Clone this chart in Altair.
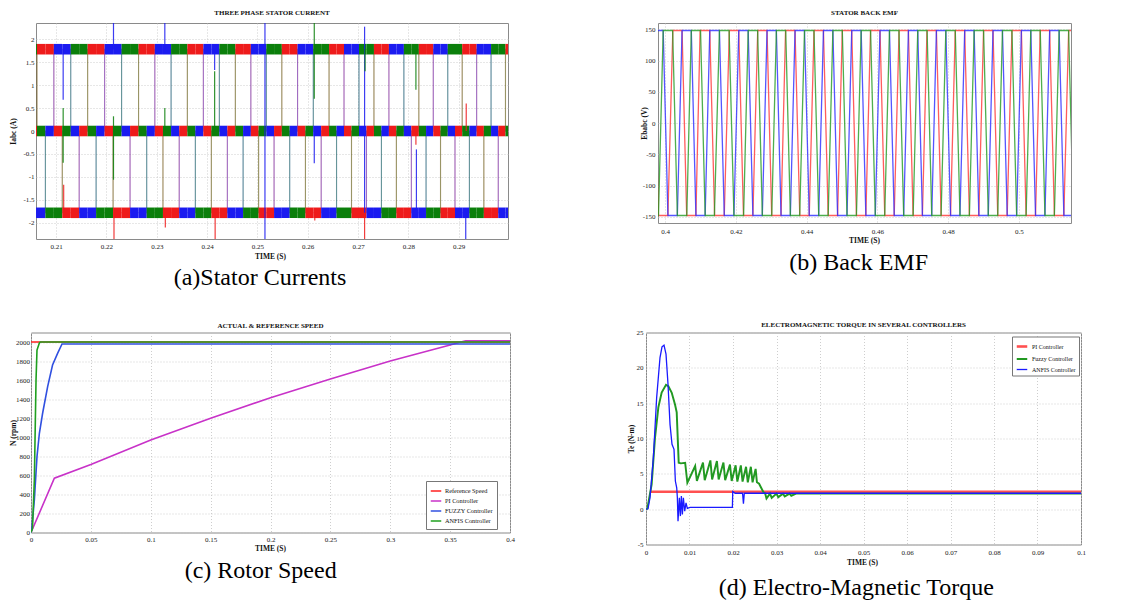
import altair as alt
import pandas as pd

FONT = "Liberation Serif"

# ======================= (a) THREE PHASE STATOR CURRENT =======================
a_title = "THREE PHASE STATOR CURRENT"
a_caption = "(a)Stator Currents"
a_xdom = [0.206, 0.2998]
a_cycle_start = [0.1962, 0.20619, 0.21626, 0.22638, 0.23608, 0.24562,
                 0.25485, 0.26424, 0.27316, 0.28208, 0.29070, 0.2993, 0.3079]
a_phase = ["Ia", "Ib", "Ic"]
a_sign = {"Ia": [1, 1, 0, -1, -1, 0],
          "Ib": [-1, 0, 1, 1, 0, -1],
          "Ic": [0, -1, -1, 0, 1, 1]}
a_level = 1.78
a_ripple = 0.115
a_spike_t = [0.2114, 0.2114, 0.2115, 0.2214, 0.2214, 0.2215, 0.2316, 0.2316, 0.2317,
             0.2415, 0.2415, 0.2416, 0.2515, 0.2613, 0.2613, 0.2614, 0.2713, 0.2713,
             0.2714, 0.2815, 0.2815, 0.2816, 0.2914, 0.2915]
a_spike_phase = ["Ib", "Ic", "Ia", "Ib", "Ic", "Ia", "Ib", "Ic", "Ia", "Ib", "Ic", "Ia",
                 "Ib", "Ic", "Ib", "Ia", "Ib", "Ia", "Ic", "Ic", "Ia", "Ib", "Ib", "Ia"]
a_spike_from = [1.78, 0.5, -1.78, 1.78, 0.32, -1.78, 1.78, 0.0, -1.78, 1.78, 0.0, -1.78,
                -2.5, 0.7, 0.0, -1.78, -1.78, -1.78, 1.78, 1.78, 0.0, -0.4, -1.78, 0.0]
a_spike_to = [0.68, -0.69, -1.17, 2.5, -1.06, -2.5, 2.5, 0.5, -2.1, 1.33, 1.3, -2.5,
              2.5, 2.5, -0.7, -1.95, 2.27, -2.5, 1.3, 0.9, -0.3, -1.7, -2.5, 0.6]
a_xticks = [0.21, 0.22, 0.23, 0.24, 0.25, 0.26, 0.27, 0.28, 0.29]
a_yticks = [-2, -1.5, -1, -0.5, 0, 0.5, 1, 1.5, 2]

# ======================= (b) STATOR BACK EMF =======================
b_title = "STATOR BACK EMF"
b_caption = "(b) Back EMF"
b_xdom = [0.398, 0.5147]
b_phase = ["Ea", "Eb", "Ec"]
b_phase_shift = [-1 / 3, 0.0, 1 / 3]          # fraction of a cycle
b_blue_start = [0.3888, 0.3968, 0.4048, 0.41263, 0.42082, 0.42881, 0.43672, 0.44475,
                0.45274, 0.46073, 0.46876, 0.47667, 0.48466, 0.49266, 0.50068, 0.50867,
                0.5167, 0.5247]
b_shape_frac = [0.0, 1 / 3, 1 / 2, 5 / 6]      # trapezoid corners within a cycle
b_shape_sign = [1, 1, -1, -1]
b_level = 148
b_xticks = [0.4, 0.42, 0.44, 0.46, 0.48, 0.5]
b_yticks = [-150, -100, -50, 0, 50, 100, 150]

# ======================= (c) ACTUAL & REFERENCE SPEED =======================
c_title = "ACTUAL & REFERENCE SPEED"
c_caption = "(c) Rotor Speed"
c_series = ["Reference Speed", "PI Controller", "FUZZY Controller", "ANFIS Controller"]
c_ref_t = [0, 0.4]
c_ref_v = [2000, 2000]
c_pi_t = [0, 0.0195, 0.05, 0.1, 0.15, 0.2, 0.25, 0.3, 0.35, 0.3588, 0.363, 0.4]
c_pi_v = [0, 570, 715, 972, 1199, 1416, 1612, 1801, 1969, 2000, 2012, 2012]
c_fuzzy_t = [0, 0.0006, 0.0028, 0.005, 0.007, 0.0097, 0.0139, 0.018, 0.0222, 0.0259, 0.4]
c_fuzzy_v = [0, 28, 343, 797, 1042, 1252, 1532, 1759, 1881, 1980, 1980]
c_anfis_t = [0, 0.0012, 0.0028, 0.0042, 0.005, 0.007, 0.0078, 0.4]
c_anfis_v = [0, 40, 550, 1600, 1915, 1990, 2000, 2000]
c_xticks = [0, 0.05, 0.1, 0.15, 0.2, 0.25, 0.3, 0.35, 0.4]
c_yticks = [0, 200, 400, 600, 800, 1000, 1200, 1400, 1600, 1800, 2000]

# ======================= (d) ELECTROMAGNETIC TORQUE =======================
d_title = "ELECTROMAGNETIC TORQUE IN SEVERAL CONTROLLERS"
d_caption = "(d) Electro-Magnetic Torque"
d_series = ["PI Controller", "Fuzzy Controller", "ANFIS Controller"]
d_pi_t = [0.00107, 0.1]
d_pi_v = [2.46, 2.46]
d_fuzzy_t = [0, 0.0003, 0.0013, 0.00207, 0.00284, 0.0036, 0.0046, 0.00514, 0.0059, 0.00667,
             0.00706, 0.00752, 0.008, 0.009, 0.00951, 0.0113, 0.0117, 0.0131, 0.0135, 0.0148,
             0.0152, 0.0163, 0.0167, 0.0178, 0.0182, 0.0193, 0.0197, 0.0206, 0.021, 0.0218,
             0.0222, 0.023, 0.0234, 0.0241, 0.0245, 0.0252, 0.0255, 0.026, 0.0265, 0.027,
             0.0274, 0.0277, 0.0285, 0.0289, 0.03, 0.0304, 0.0315, 0.0319, 0.033, 0.0334,
             0.0345, 0.035, 0.1]
d_fuzzy_v = [0, 0.05, 3.5, 10.1, 14.4, 16.5, 17.6, 17.4, 16.5, 14.8,
             13.7, 6.57, 6.48, 6.57, 3.74, 6.1, 4.0, 6.6, 4.1, 6.9,
             4.2, 6.8, 4.2, 6.6, 4.1, 6.3, 4.0, 6.2, 3.9, 6.2,
             3.9, 6.0, 3.8, 6.0, 3.8, 5.7, 3.8, 3.6, 3.0, 2.4,
             2.2, 1.5, 2.2, 1.6, 2.2, 1.7, 2.2, 1.8, 2.2, 1.9,
             2.2, 2.2, 2.2]
d_anfis_t = [0, 0.00046, 0.00092, 0.00169, 0.00245, 0.00322, 0.00368, 0.00414, 0.0046, 0.00506,
             0.00552, 0.00598, 0.00644, 0.00675, 0.00706, 0.00721, 0.00736, 0.00767, 0.0079, 0.00813,
             0.00836, 0.00859, 0.0089, 0.0092, 0.0095, 0.01012, 0.01986, 0.01994, 0.0205, 0.0222,
             0.0224, 0.0226, 0.1]
d_anfis_v = [0, 0.05, 1.61, 7.28, 15.79, 21.46, 22.97, 23.2, 21.93, 17.68,
             12.0, 9.17, 8.46, 3.98, 3.03, 1.61, -1.69, 1.61, -0.98, 1.85,
             -0.75, 1.61, -0.28, 0.9, 0.1, 0.25, 0.25, 2.5, 2.25, 2.25,
             0.76, 2.25, 2.25]
d_xticks = [0, 0.01, 0.02, 0.03, 0.04, 0.05, 0.06, 0.07, 0.08, 0.09, 0.1]
d_yticks = [-5, 0, 5, 10, 15, 20, 25]

# ---------------------------------------------------------------- tables
seg_rows, step_rows = [], []
lo_t, hi_t = a_xdom
for i in range(len(a_cycle_start) - 1):
    s, e = a_cycle_start[i], a_cycle_start[i + 1]
    for k in range(6):
        t0 = s + (e - s) * k / 6
        t1 = s + (e - s) * (k + 1) / 6
        if t1 <= lo_t or t0 >= hi_t:
            continue
        t0c, t1c = max(t0, lo_t), min(t1, hi_t)
        for ph in a_phase:
            lv = a_sign[ph][k] * a_level
            seg_rows.append({"t0": t0c, "t1": t1c, "lo": lv - a_ripple, "hi": lv + a_ripple, "ph": ph})
            step_rows.append({"t": t0c, "v": lv, "ph": ph})
            if t1c == hi_t:
                step_rows.append({"t": hi_t, "v": lv, "ph": ph})
df_a_seg = pd.DataFrame(seg_rows)
df_a_step = pd.DataFrame(step_rows)
df_a_spk = pd.DataFrame({"t": a_spike_t, "ph": a_spike_phase, "y1": a_spike_from, "y2": a_spike_to})

b_rows = []
for ph, sh in zip(b_phase, b_phase_shift):
    pts = []
    for i in range(len(b_blue_start) - 1):
        s, e = b_blue_start[i], b_blue_start[i + 1]
        for f, sg in zip(b_shape_frac, b_shape_sign):
            pts.append((s + (sh + f) * (e - s), sg * b_level))
    for j, (t, v) in enumerate(pts):
        near = [pts[m][0] for m in (j - 1, j, j + 1) if 0 <= m < len(pts)]
        if any(b_xdom[0] <= q <= b_xdom[1] for q in near):
            b_rows.append({"t": t, "v": v, "ph": ph})
df_b = pd.DataFrame(b_rows)

df_c = pd.concat([
    pd.DataFrame({"t": c_ref_t, "v": c_ref_v, "s": c_series[0]}),
    pd.DataFrame({"t": c_pi_t, "v": c_pi_v, "s": c_series[1]}),
    pd.DataFrame({"t": c_fuzzy_t, "v": c_fuzzy_v, "s": c_series[2]}),
    pd.DataFrame({"t": c_anfis_t, "v": c_anfis_v, "s": c_series[3]}),
])
df_d = pd.concat([
    pd.DataFrame({"t": d_pi_t, "v": d_pi_v, "s": d_series[0]}),
    pd.DataFrame({"t": d_fuzzy_t, "v": d_fuzzy_v, "s": d_series[1]}),
    pd.DataFrame({"t": d_anfis_t, "v": d_anfis_v, "s": d_series[2]}),
])

# ---------------------------------------------------------------- helpers
LBL = "datum.value + ''"
AX = dict(labelFont=FONT, labelFontSize=7, labelColor="#222",
          titleFont=FONT, titleFontSize=7.5, titleFontWeight="bold", titleColor="#111",
          grid=True, gridColor="#c2c2c2", gridDash=[1, 2], gridWidth=0.8,
          ticks=False, domain=False, labelFlush=False, labelOverlap=False)


def ax_x(values, tx, ty, pad):
    return alt.Axis(values=values, labelExpr=LBL, title="TIME (S)", titleX=tx, titleY=ty,
                    titleBaseline="middle", titleAlign="center", labelPadding=pad, **AX)


def ax_y(values, title, tx, ty, pad):
    return alt.Axis(values=values, labelExpr=LBL, title=title, titleX=tx, titleY=ty,
                    titleAngle=270, titleBaseline="middle", titleAlign="center",
                    labelPadding=pad, **AX)


def title(text, offset):
    return alt.TitleParams(text, font=FONT, fontSize=7, fontWeight="bold", color="#111",
                           anchor="middle", offset=offset)


def caption(text, x, y):
    return alt.Chart(pd.DataFrame({"c": [text]})).mark_text(
        font=FONT, fontSize=24, baseline="middle", align="center", color="#000"
    ).encode(x=alt.value(x), y=alt.value(y), text="c:N")


def legend(x, y, pad, sw, fs):
    return alt.Legend(orient="none", legendX=x, legendY=y, title=None,
                      symbolType="stroke", symbolSize=110, symbolStrokeWidth=sw,
                      fillColor="white", strokeColor="#777", padding=pad, rowPadding=0,
                      labelFont=FONT, labelFontSize=fs, labelColor="#111", labelOffset=3)


def spacer():
    return alt.Chart(pd.DataFrame({"z": [0]})).mark_point(size=0, opacity=0).encode(
        x=alt.value(0), y=alt.value(0)).properties(width=1, height=1, view=alt.ViewBackground(strokeOpacity=0))


# ---------------------------------------------------------------- (a)
A_W, A_H = 472, 216
a_xs = alt.Scale(domain=a_xdom, nice=False, zero=False)
a_ys = alt.Scale(domain=[-2.35, 2.35], nice=False, zero=False)
a_xa = ax_x(a_xticks, 234, 17, 3)
a_ya = ax_y(a_yticks, "Iabc (A)", -22.5, A_H / 2, 2)
a_col = alt.Color("ph:N", scale=alt.Scale(domain=a_phase, range=["#ee1b1b", "#1b1bf0", "#0b7f0b"]), legend=None)

a_lines = alt.Chart(df_a_step).mark_line(interpolate="step-after", strokeWidth=1.1, opacity=0.4, clip=True).encode(
    x=alt.X("t:Q", scale=a_xs, axis=a_xa), y=alt.Y("v:Q", scale=a_ys, axis=a_ya), color=a_col, detail="ph:N")
a_rect = alt.Chart(df_a_seg).mark_rect(clip=True).encode(
    x=alt.X("t0:Q", scale=a_xs, axis=a_xa), x2="t1:Q",
    y=alt.Y("lo:Q", scale=a_ys, axis=a_ya), y2="hi:Q", color=a_col)
a_spk = alt.Chart(df_a_spk).mark_rule(clip=True, strokeWidth=1.2, opacity=0.85).encode(
    x=alt.X("t:Q", scale=a_xs, axis=a_xa), y=alt.Y("y1:Q", scale=a_ys, axis=a_ya), y2="y2:Q", color=a_col)
chart_a = alt.layer(a_lines, a_rect, a_spk, caption(a_caption, 224, 254.5)).properties(
    width=A_W, height=A_H, title=title(a_title, 7))

# ---------------------------------------------------------------- (b)
B_W, B_H = 413, 200
b_xs = alt.Scale(domain=b_xdom, nice=False, zero=False)
b_ys = alt.Scale(domain=[-160, 160], nice=False, zero=False)
b_col = alt.Color("ph:N", scale=alt.Scale(domain=b_phase, range=["#ff3535", "#2a2aff", "#229a22"]), legend=None)
b_lines = alt.Chart(df_b).mark_line(strokeWidth=1.3, opacity=0.8, clip=True).encode(
    x=alt.X("t:Q", scale=b_xs, axis=ax_x(b_xticks, 206, 17.3, 4)),
    y=alt.Y("v:Q", scale=b_ys, axis=ax_y(b_yticks, "Ebabc (V)", -13.3, B_H / 2, 3)),
    color=b_col, detail="ph:N", order="t:Q")
chart_b = alt.layer(b_lines, caption(b_caption, 200.7, 240)).properties(
    width=B_W, height=B_H, title=title(b_title, 7))

# ---------------------------------------------------------------- (c)
C_W, C_H = 479, 200
c_col = alt.Color("s:N", scale=alt.Scale(domain=c_series, range=["#ff2020", "#c832c8", "#3050e0", "#1fa01f"]),
                  legend=legend(395, 148.5, 4, 1.5, 6.3))
c_lines = alt.Chart(df_c).mark_line(strokeWidth=1.6, clip=True).encode(
    x=alt.X("t:Q", scale=alt.Scale(domain=[0, 0.4], nice=False, zero=False), axis=ax_x(c_xticks, 239, 16, 3)),
    y=alt.Y("v:Q", scale=alt.Scale(domain=[0, 2100], nice=False, zero=False),
            axis=ax_y(c_yticks, "N (rpm)", -17.5, C_H / 2, 1.5)),
    color=c_col, detail="s:N")
chart_c = alt.layer(c_lines, caption(c_caption, 229.7, 238.7)).properties(
    width=C_W, height=C_H, title=title(c_title, 3.8))

# ---------------------------------------------------------------- (d)
D_W, D_H = 435, 212
d_col = alt.Color("s:N", scale=alt.Scale(domain=d_series, range=["#ff5050", "#229922", "#1a1aff"]),
                  legend=legend(366, 4, 3, 2, 6))
d_sw = alt.StrokeWidth("s:N", scale=alt.Scale(domain=d_series, range=[2.6, 1.3, 1.3]), legend=None)
d_lines = alt.Chart(df_d).mark_line(clip=True).encode(
    x=alt.X("t:Q", scale=alt.Scale(domain=[0, 0.1], nice=False, zero=False), axis=ax_x(d_xticks, 216, 17.6, 4)),
    y=alt.Y("v:Q", scale=alt.Scale(domain=[-5, 25], nice=False, zero=False),
            axis=ax_y(d_yticks, "Te (N-m)", -14.3, D_H / 2, 3)),
    color=d_col, strokeWidth=d_sw, detail="s:N")
chart_d = alt.layer(d_lines, caption(d_caption, 210.3, 255.5)).properties(
    width=D_W, height=D_H, title=title(d_title, 0.5))

# ---------------------------------------------------------------- layout
RES = dict(x="independent", y="independent", color="independent", strokeWidth="independent")
pair1 = alt.hconcat(chart_a, chart_b, spacing=131).resolve_scale(**RES)
pair2 = alt.hconcat(chart_c, chart_d, spacing=112).resolve_scale(**RES)
row1 = alt.hconcat(spacer(), pair1, spacing=0).resolve_scale(**RES)
row2 = alt.hconcat(spacer(), pair2, spacing=0).resolve_scale(**RES)
chart = alt.vconcat(row1, row2, spacing=30.5).resolve_scale(**RES).properties(
    padding={"left": 0, "top": 0, "right": 0, "bottom": 0}, background="white"
).configure_view(stroke="#8a8a8a", strokeWidth=1)

chart.save("out.html", embed_options={"renderer": "svg", "actions": False})
